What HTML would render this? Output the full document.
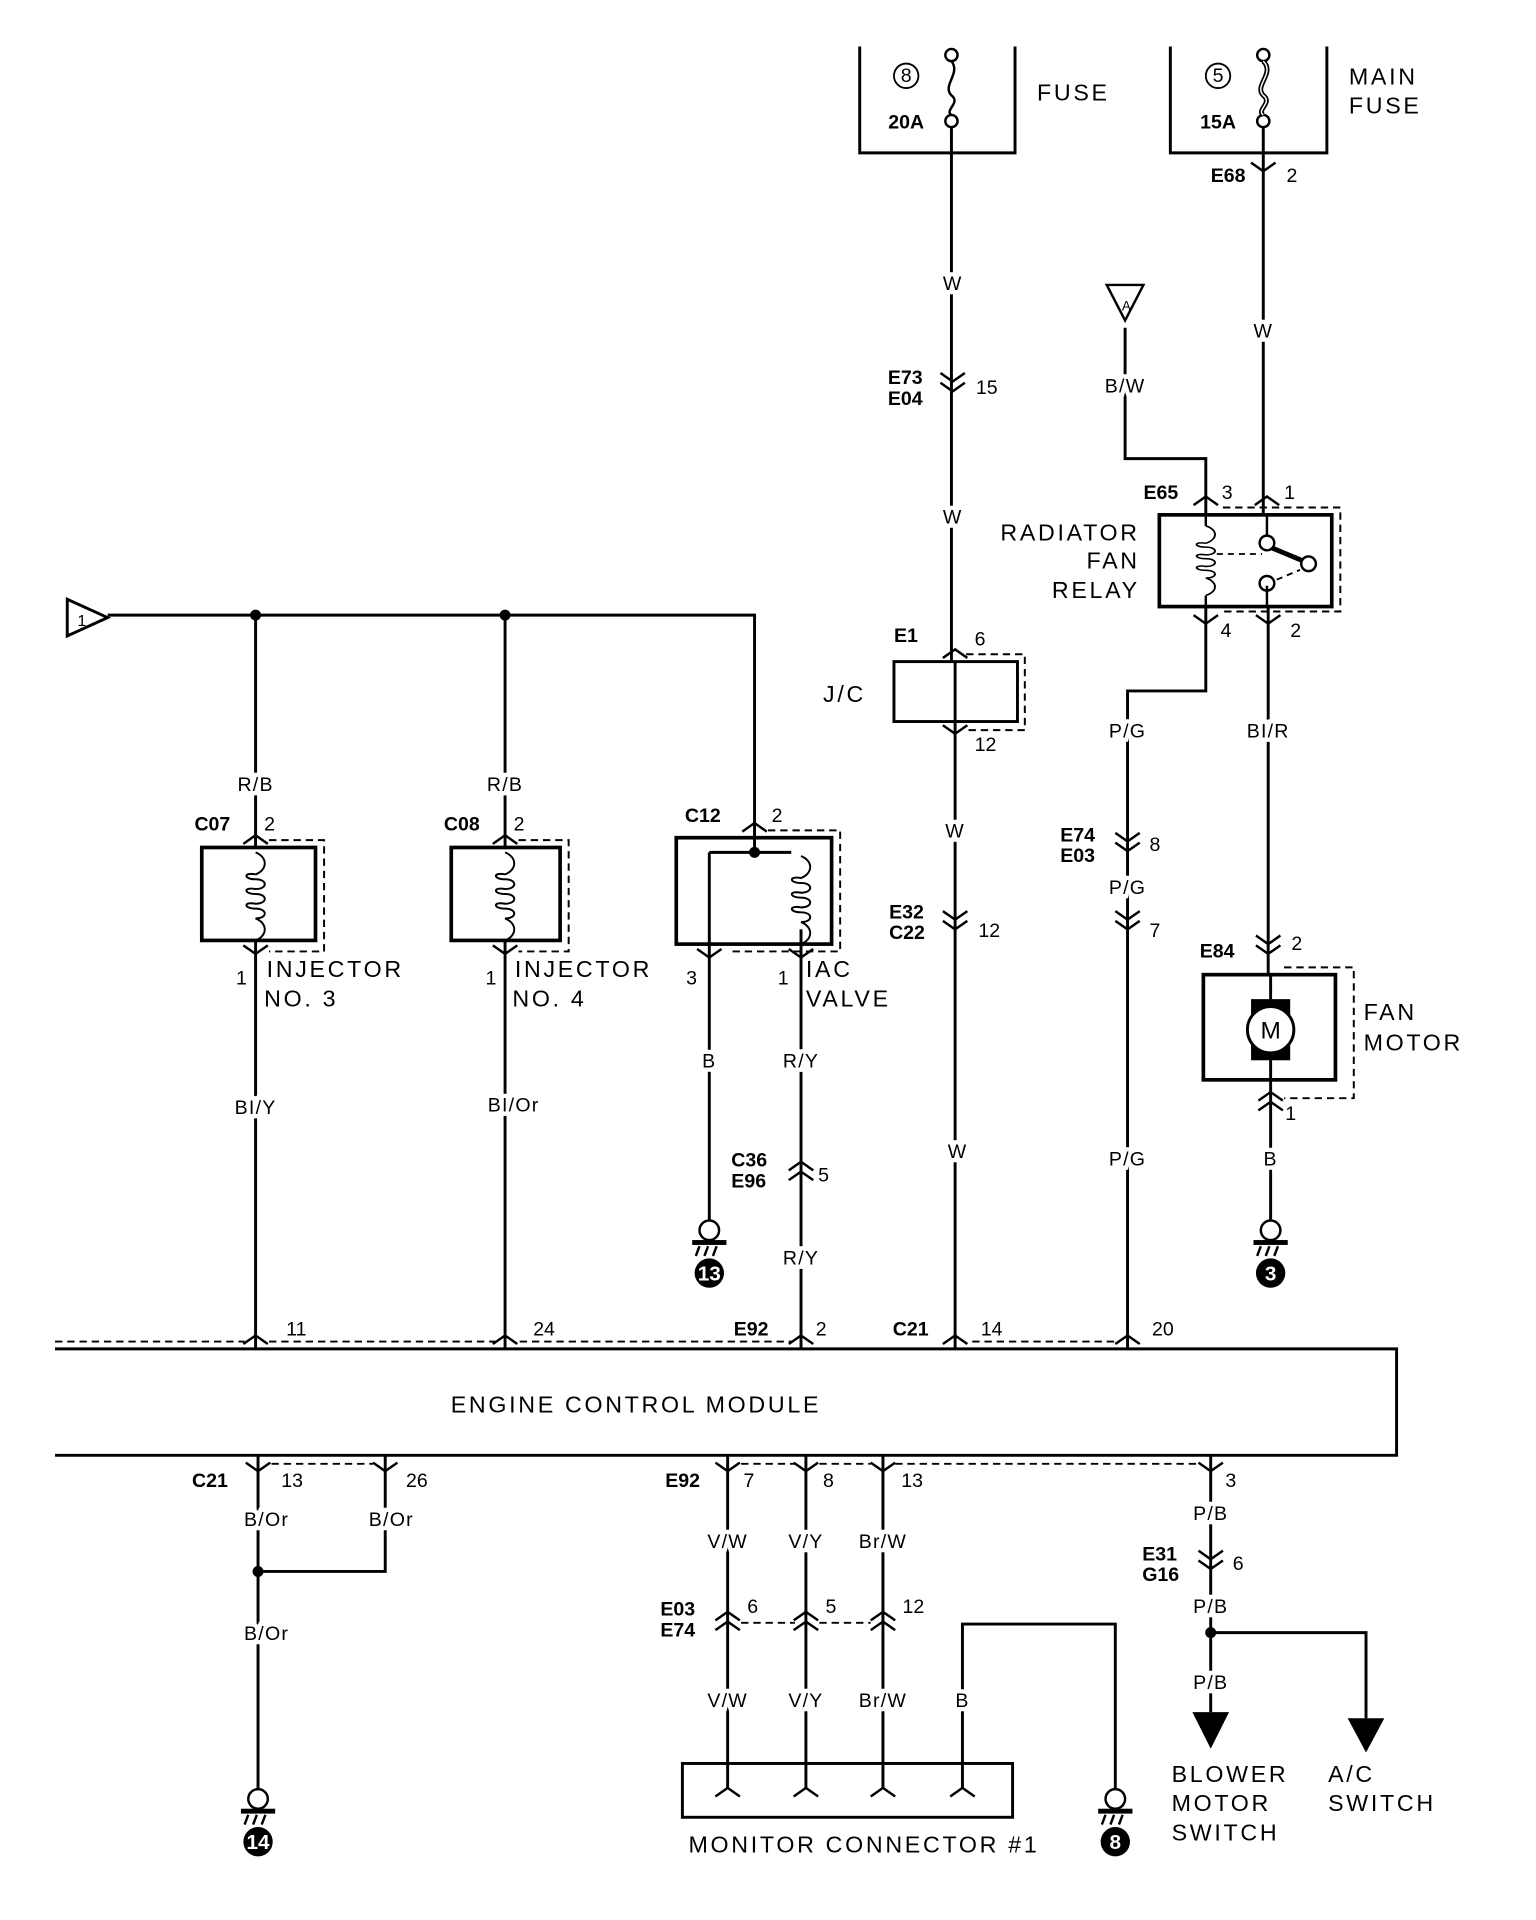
<!DOCTYPE html>
<html><head><meta charset="utf-8"><style>
html,body{margin:0;padding:0;background:#fff}
svg{display:block}
text{font-family:"Liberation Sans",sans-serif;fill:#000}
.l{font-size:16px;letter-spacing:1px;stroke:#fff;stroke-width:7px;paint-order:stroke;text-anchor:middle}
.n{font-size:16px}
.b{font-size:16px;font-weight:bold}
.t{font-size:19px;letter-spacing:2.2px}
</style></head><body>
<svg width="1536" height="1920" viewBox="0 0 1256 1570" xmlns="http://www.w3.org/2000/svg">
<defs>
<g id="up"><path d="M-10 7 L0 0 L10 7" fill="none" stroke="#000" stroke-width="2"/></g>
<g id="dn"><path d="M-10 -7 L0 0 L10 -7" fill="none" stroke="#000" stroke-width="2"/></g>
<g id="dd"><path d="M-10 -7 L0 0 L10 -7 M-10 1 L0 8 L10 1" fill="none" stroke="#000" stroke-width="2"/></g>
<g id="du"><path d="M-10 7 L0 0 L10 7 M-10 15 L0 8 L10 15" fill="none" stroke="#000" stroke-width="2"/></g>
<g id="coil"><path d="M0 0 C10 4 10 14 0 18 M0 18 C-10 16 -10 22 0 22 C10 22 10 30 0 30 C-10 28 -10 34 0 34 C10 34 10 42 0 42 C-10 40 -10 46 0 46 C10 46 10 54 0 54 C10 58 10 68 0 72" fill="none" stroke="#000" stroke-width="1.6"/></g>
<g id="gnd"><circle cx="0" cy="8" r="8" fill="#fff" stroke="#000" stroke-width="2"/><rect x="-14" y="16" width="28" height="4" fill="#000"/><path d="M-8 21 L-11 29 M-1 21 L-4 29 M6 21 L3 29" stroke="#000" stroke-width="2"/><circle cx="0" cy="43" r="12" fill="#000"/></g>
</defs>
<g stroke="#000" stroke-width="2.4" fill="none">
<path d="M703 38 V125 H830 V38"/>
<path d="M957 38 V125 H1085 V38"/>
<circle cx="778" cy="45" r="5" stroke-width="2"/><circle cx="778" cy="99" r="5" stroke-width="2"/>
<path d="M778 50 C786 60 770 70 778 78 C786 84 772 90 778 94" stroke-width="2"/>
<circle cx="1033" cy="45" r="5" stroke-width="2"/><circle cx="1033" cy="99" r="5" stroke-width="2"/>
<path d="M1033 50 C1043 60 1025 70 1033 78 C1041 84 1027 90 1033 94" stroke-width="4"/>
<path d="M1033 50 C1043 60 1025 70 1033 78 C1041 84 1027 90 1033 94" stroke="#fff" stroke-width="1.2"/>
<circle cx="741" cy="62" r="10" stroke-width="1.5"/><circle cx="996" cy="62" r="10" stroke-width="1.5"/>
<path d="M778 104 V541 M781 590 V1103"/>
<path d="M781 541 V590"/>
<rect x="731" y="541" width="101" height="49"/>
<path d="M790 535 H838 V597 H790" stroke-dasharray="6 4" stroke-width="1.6"/>
<path d="M1033 104 V421"/>
<path d="M920 268 V375 H986 V421"/>
<path d="M905 233 H935 L920 262 Z" stroke-width="2"/>
<rect x="948" y="421" width="141" height="75" stroke-width="3"/>
<path d="M1000 415 H1096 V500 H1000" stroke-dasharray="6 4" stroke-width="1.6"/>
<path d="M986 421 V430 M986 487 V496 M1036 421 V438 M1036 496 V479" stroke-width="2"/>
<circle cx="1036" cy="444" r="6" stroke-width="2"/><circle cx="1070" cy="461" r="6" stroke-width="2"/><circle cx="1036" cy="477" r="6" stroke-width="2"/>
<path d="M1040 448 L1064 458" stroke-width="4"/>
<path d="M995 453 H1032 M1044 474 L1063 466" stroke-dasharray="5 4" stroke-width="1.5"/>
<path d="M986 496 V565 H922 V1103"/>
<path d="M1037 496 V797"/>
<rect x="984" y="797" width="108" height="86" stroke-width="3"/>
<path d="M1050 791 H1107 V898 H1050" stroke-dasharray="6 4" stroke-width="1.6"/>
<path d="M1039 797 V822 M1039 862 V1000"/>
<rect x="1023" y="817" width="32" height="50" fill="#000" stroke="none"/>
<circle cx="1039" cy="842" r="19" fill="#fff" stroke-width="2.4"/>
<path d="M45 1103 H1142 V1190 H45" stroke-width="2.4"/>
<path d="M45 1097 H200 M220 1097 H405 M425 1097 H648 M795 1097 H915" stroke-dasharray="6 4" stroke-width="1.5"/>
<path d="M88 503 H617 V685"/>
<path d="M55 490 V520 L88 505 Z" stroke-width="2.4"/>
<path d="M209 503 V693 M209 769 V1103 M413 503 V693 M413 769 V1103"/>
<rect x="165" y="693" width="93" height="76" stroke-width="3"/>
<rect x="369" y="693" width="89" height="76" stroke-width="3"/>
<path d="M220 687 H265 V778 H220" stroke-dasharray="6 4" stroke-width="1.6"/>
<path d="M424 687 H465 V778 H424" stroke-dasharray="6 4" stroke-width="1.6"/>
<rect x="553" y="685" width="127" height="87" stroke-width="3"/>
<path d="M628 679 H687 V778 H595" stroke-dasharray="6 4" stroke-width="1.6"/>
<path d="M617 685 V697 M580 697 H647 M580 697 V1000 M655 760 V1103"/>
<path d="M211 1190 V1463 M315 1190 V1285 H211"/>
<path d="M222 1197 H305" stroke-dasharray="6 4" stroke-width="1.5"/>
<path d="M595 1190 V1462 M659 1190 V1462 M722 1190 V1462 M787 1442 V1462"/>
<path d="M606 1197 H650 M670 1197 H712 M732 1197 H980" stroke-dasharray="6 4" stroke-width="1.5"/>
<path d="M606 1327 H650 M670 1327 H712" stroke-dasharray="6 4" stroke-width="1.5"/>
<rect x="558" y="1442" width="270" height="44"/>
<path d="M787 1442 V1328 H912 V1465"/>
<path d="M990 1190 V1400 M990 1335 H1117 V1405"/>
<path d="M975 1400 H1005 L990 1430 Z M1102 1405 H1132 L1117 1433 Z" fill="#000" stroke="none"/>
</g>
<circle cx="209" cy="503" r="4.5"/><circle cx="413" cy="503" r="4.5"/><circle cx="617" cy="697" r="4.5"/>
<circle cx="211" cy="1285" r="4.5"/><circle cx="990" cy="1335" r="4.5"/>
<use href="#coil" x="209" y="697"/><use href="#coil" x="413" y="697"/>
<g transform="translate(655,700)"><use href="#coil"/></g>
<g transform="translate(986,430) scale(1,0.79)"><use href="#coil"/></g>
<use href="#up" x="209" y="683"/><use href="#dn" x="209" y="780"/>
<use href="#up" x="413" y="683"/><use href="#dn" x="413" y="780"/>
<use href="#up" x="617" y="673"/><use href="#dn" x="580" y="783"/><use href="#dn" x="655" y="783"/>
<use href="#up" x="781" y="531"/><use href="#dn" x="781" y="600"/>
<use href="#up" x="986" y="406"/><use href="#up" x="1036" y="406"/>
<use href="#dn" x="986" y="510"/><use href="#dn" x="1037" y="510"/>
<use href="#dd" x="1037" y="772"/><use href="#du" x="1039" y="893"/>
<use href="#dn" x="1033" y="140"/>
<use href="#dd" x="779" y="312"/><use href="#dd" x="781" y="752"/>
<use href="#dd" x="922" y="688"/><use href="#dd" x="922" y="752"/>
<use href="#du" x="655" y="950"/>
<use href="#du" x="595" y="1318"/><use href="#du" x="659" y="1318"/><use href="#du" x="722" y="1318"/>
<use href="#dd" x="990" y="1275"/>
<use href="#up" x="209" y="1092"/><use href="#up" x="413" y="1092"/><use href="#up" x="655" y="1092"/><use href="#up" x="781" y="1092"/><use href="#up" x="922" y="1092"/>
<use href="#dn" x="211" y="1203"/><use href="#dn" x="315" y="1203"/><use href="#dn" x="595" y="1203"/><use href="#dn" x="659" y="1203"/><use href="#dn" x="722" y="1203"/><use href="#dn" x="990" y="1203"/>
<use href="#up" x="595" y="1462"/><use href="#up" x="659" y="1462"/><use href="#up" x="722" y="1462"/><use href="#up" x="787" y="1462"/>
<use href="#gnd" x="580" y="998"/><use href="#gnd" x="1039" y="998"/><use href="#gnd" x="211" y="1463"/><use href="#gnd" x="912" y="1463"/>
<g font-family="Liberation Sans" font-weight="bold" font-size="17" text-anchor="middle">
<text x="580" y="1047" style="fill:#fff">13</text><text x="1039" y="1047" style="fill:#fff">3</text><text x="211" y="1512" style="fill:#fff">14</text><text x="912" y="1512" style="fill:#fff">8</text></g>
<text x="741" y="67" class="n" text-anchor="middle">8</text>
<text x="996" y="67" class="n" text-anchor="middle">5</text>
<text x="741" y="105" class="b" text-anchor="middle">20A</text>
<text x="996" y="105" class="b" text-anchor="middle">15A</text>
<text x="848" y="82" class="t">FUSE</text>
<text x="1103" y="69" class="t">MAIN</text><text x="1103" y="93" class="t">FUSE</text>
<text x="990" y="149" class="b">E68</text><text x="1052" y="149" class="n">2</text>
<text x="779" y="237" class="l">W</text><text x="1033" y="276" class="l">W</text>
<text x="726" y="314" class="b">E73</text><text x="726" y="331" class="b">E04</text><text x="798" y="322" class="n">15</text>
<text x="779" y="428" class="l">W</text>
<text x="731" y="525" class="b">E1</text><text x="797" y="528" class="n">6</text>
<text x="673" y="574" class="t">J/C</text><text x="797" y="614" class="n">12</text>
<text x="781" y="685" class="l">W</text>
<text x="727" y="751" class="b">E32</text><text x="727" y="768" class="b">C22</text><text x="800" y="766" class="n">12</text>
<text x="783" y="947" class="l">W</text>
<text x="920" y="321" class="l">B/W</text>
<text x="935" y="408" class="b">E65</text><text x="999" y="408" class="n">3</text><text x="1050" y="408" class="n">1</text>
<text x="932" y="442" class="t" text-anchor="end">RADIATOR</text>
<text x="932" y="465" class="t" text-anchor="end">FAN</text>
<text x="932" y="489" class="t" text-anchor="end">RELAY</text>
<text x="998" y="521" class="n">4</text><text x="1055" y="521" class="n">2</text>
<text x="922" y="603" class="l">P/G</text><text x="1037" y="603" class="l">BI/R</text>
<text x="867" y="688" class="b">E74</text><text x="867" y="705" class="b">E03</text><text x="940" y="696" class="n">8</text>
<text x="922" y="731" class="l">P/G</text><text x="940" y="766" class="n">7</text>
<text x="922" y="953" class="l">P/G</text>
<text x="981" y="783" class="b">E84</text><text x="1056" y="777" class="n">2</text>
<text x="1115" y="834" class="t">FAN</text><text x="1115" y="859" class="t">MOTOR</text>
<text x="1051" y="916" class="n">1</text>
<text x="1039" y="953" class="l">B</text>
<text x="159" y="679" class="b">C07</text><text x="216" y="679" class="n">2</text>
<text x="363" y="679" class="b">C08</text><text x="420" y="679" class="n">2</text>
<text x="560" y="672" class="b">C12</text><text x="631" y="672" class="n">2</text>
<text x="209" y="647" class="l">R/B</text><text x="413" y="647" class="l">R/B</text>
<text x="193" y="805" class="n">1</text><text x="397" y="805" class="n">1</text>
<text x="561" y="805" class="n">3</text><text x="636" y="805" class="n">1</text>
<text x="218" y="799" class="t">INJECTOR</text><text x="216" y="823" class="t">NO. 3</text>
<text x="421" y="799" class="t">INJECTOR</text><text x="419" y="823" class="t">NO. 4</text>
<text x="659" y="799" class="t">IAC</text><text x="659" y="823" class="t">VALVE</text>
<text x="209" y="911" class="l">BI/Y</text><text x="420" y="909" class="l">BI/Or</text>
<text x="580" y="873" class="l">B</text><text x="655" y="873" class="l">R/Y</text>
<text x="598" y="954" class="b">C36</text><text x="598" y="971" class="b">E96</text><text x="669" y="966" class="n">5</text>
<text x="655" y="1034" class="l">R/Y</text>
<text x="234" y="1092" class="n">11</text><text x="436" y="1092" class="n">24</text>
<text x="600" y="1092" class="b">E92</text><text x="667" y="1092" class="n">2</text>
<text x="730" y="1092" class="b">C21</text><text x="802" y="1092" class="n">14</text>
<text x="942" y="1092" class="n">20</text>
<text x="520" y="1155" class="t" text-anchor="middle">ENGINE CONTROL MODULE</text>
<text x="157" y="1216" class="b">C21</text><text x="230" y="1216" class="n">13</text><text x="332" y="1216" class="n">26</text>
<text x="218" y="1248" class="l">B/Or</text><text x="320" y="1248" class="l">B/Or</text>
<text x="218" y="1341" class="l">B/Or</text>
<text x="544" y="1216" class="b">E92</text><text x="608" y="1216" class="n">7</text><text x="673" y="1216" class="n">8</text><text x="737" y="1216" class="n">13</text>
<text x="595" y="1266" class="l">V/W</text><text x="659" y="1266" class="l">V/Y</text><text x="722" y="1266" class="l">Br/W</text>
<text x="540" y="1321" class="b">E03</text><text x="540" y="1338" class="b">E74</text>
<text x="611" y="1319" class="n">6</text><text x="675" y="1319" class="n">5</text><text x="738" y="1319" class="n">12</text>
<text x="595" y="1396" class="l">V/W</text><text x="659" y="1396" class="l">V/Y</text><text x="722" y="1396" class="l">Br/W</text><text x="787" y="1396" class="l">B</text>
<text x="563" y="1515" class="t">MONITOR CONNECTOR #1</text>
<text x="1002" y="1216" class="n">3</text>
<text x="990" y="1243" class="l">P/B</text>
<text x="934" y="1276" class="b">E31</text><text x="934" y="1293" class="b">G16</text><text x="1008" y="1284" class="n">6</text>
<text x="990" y="1319" class="l">P/B</text><text x="990" y="1381" class="l">P/B</text>
<text x="958" y="1457" class="t">BLOWER</text><text x="958" y="1481" class="t">MOTOR</text><text x="958" y="1505" class="t">SWITCH</text>
<text x="1086" y="1457" class="t">A/C</text><text x="1086" y="1481" class="t">SWITCH</text>
<text x="921" y="254" font-size="11" text-anchor="middle">A</text>
<text x="67" y="512" font-size="13" text-anchor="middle">1</text>
<text x="1039" y="849" font-size="20" text-anchor="middle">M</text>
</svg>
</body></html>
